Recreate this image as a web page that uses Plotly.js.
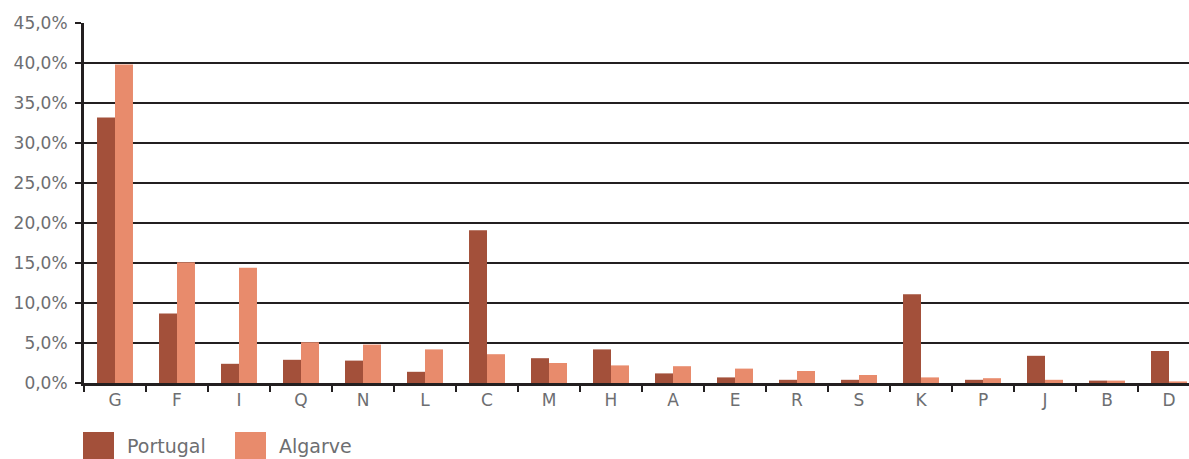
<!DOCTYPE html>
<html>
<head>
<meta charset="utf-8">
<script src="https://cdn.plot.ly/plotly-3.0.1.min.js"></script>
<style>
  html, body { margin: 0; padding: 0; overflow: hidden; background: #fff; }
  #chart { width: 1200px; height: 459px; }
</style>
</head>
<body>
<div id="chart"></div>
<script>
// Sectors of activity (CAE sections), share of total, in %
const categories = ['G', 'F', 'I', 'Q', 'N', 'L', 'C', 'M', 'H', 'A', 'E', 'R', 'S', 'K', 'P', 'J', 'B', 'D'];
const portugal = [33.2, 8.7, 2.4, 2.9, 2.8, 1.4, 19.1, 3.1, 4.2, 1.2, 0.7, 0.4, 0.4, 11.1, 0.4, 3.4, 0.3, 4.0];
const algarve  = [39.8, 15.1, 14.4, 5.1, 4.8, 4.2, 3.6, 2.5, 2.2, 2.1, 1.8, 1.5, 1.0, 0.7, 0.6, 0.4, 0.3, 0.2];
const seriesNames = ['Portugal', 'Algarve'];
const seriesColors = ['#a3503a', '#e88b6c'];
const yTickVals = [0, 5, 10, 15, 20, 25, 30, 35, 40, 45];
const yTickText = ['0,0%', '5,0%', '10,0%', '15,0%', '20,0%', '25,0%', '30,0%', '35,0%', '40,0%', '45,0%'];

const W = 1200, H = 459;
const M = { l: 84, r: 0, t: 23, b: 76 };
const PW = W - M.l - M.r, PH = H - M.t - M.b;
// pixel -> paper coordinates for the hand-drawn legend
const px = x => (x - M.l) / PW;
const py = y => (H - M.b - y) / PH;

const ink = '#231f20';
const textGrey = '#6d6e71';
const tickFont = { family: '"DejaVu Sans", sans-serif', size: 17, color: textGrey };
const legendFont = { family: '"DejaVu Sans", sans-serif', size: 19, color: textGrey };

const traces = [portugal, algarve].map((vals, i) => ({
  type: 'bar',
  x: categories,
  y: vals,
  name: seriesNames[i],
  marker: { color: seriesColors[i], line: { width: 0 } },
  hoverinfo: 'x+y+name'
}));

// Legend: large square swatches with labels
const legendItems = [
  { sx: 83, tx: 125 },
  { sx: 235, tx: 277 }
];
const shapes = legendItems.map((it, i) => ({
  type: 'rect', xref: 'paper', yref: 'paper',
  x0: px(it.sx), x1: px(it.sx + 31), y0: py(459), y1: py(432),
  fillcolor: seriesColors[i], line: { width: 0 }
}));
const annotations = legendItems.map((it, i) => ({
  xref: 'paper', yref: 'paper', x: px(it.tx), y: py(446),
  xanchor: 'left', yanchor: 'middle', showarrow: false,
  text: seriesNames[i], font: legendFont
}));

const layout = {
  width: W, height: H,
  margin: M,
  paper_bgcolor: '#ffffff', plot_bgcolor: '#ffffff',
  font: tickFont,
  barmode: 'group',
  bargap: 0.42,
  bargroupgap: 0,
  showlegend: false,
  xaxis: {
    type: 'category',
    range: [-0.5, categories.length - 0.5],
    showgrid: false,
    showline: true, linecolor: ink, linewidth: 3,
    ticks: 'outside', tickson: 'boundaries', ticklen: 6, tickwidth: 2, tickcolor: ink,
    tickfont: tickFont,
    zeroline: false,
    fixedrange: true
  },
  yaxis: {
    range: [0, 45],
    tickvals: yTickVals, ticktext: yTickText,
    showgrid: true, gridcolor: ink, gridwidth: 2,
    showline: true, linecolor: ink, linewidth: 3,
    ticks: 'outside', ticklen: 6, tickwidth: 2, tickcolor: ink,
    ticklabelstandoff: 4,
    tickfont: tickFont,
    zeroline: false,
    fixedrange: true
  },
  shapes: shapes,
  annotations: annotations
};

Plotly.newPlot('chart', traces, layout, { displayModeBar: false, staticPlot: true });
</script>
</body>
</html>
